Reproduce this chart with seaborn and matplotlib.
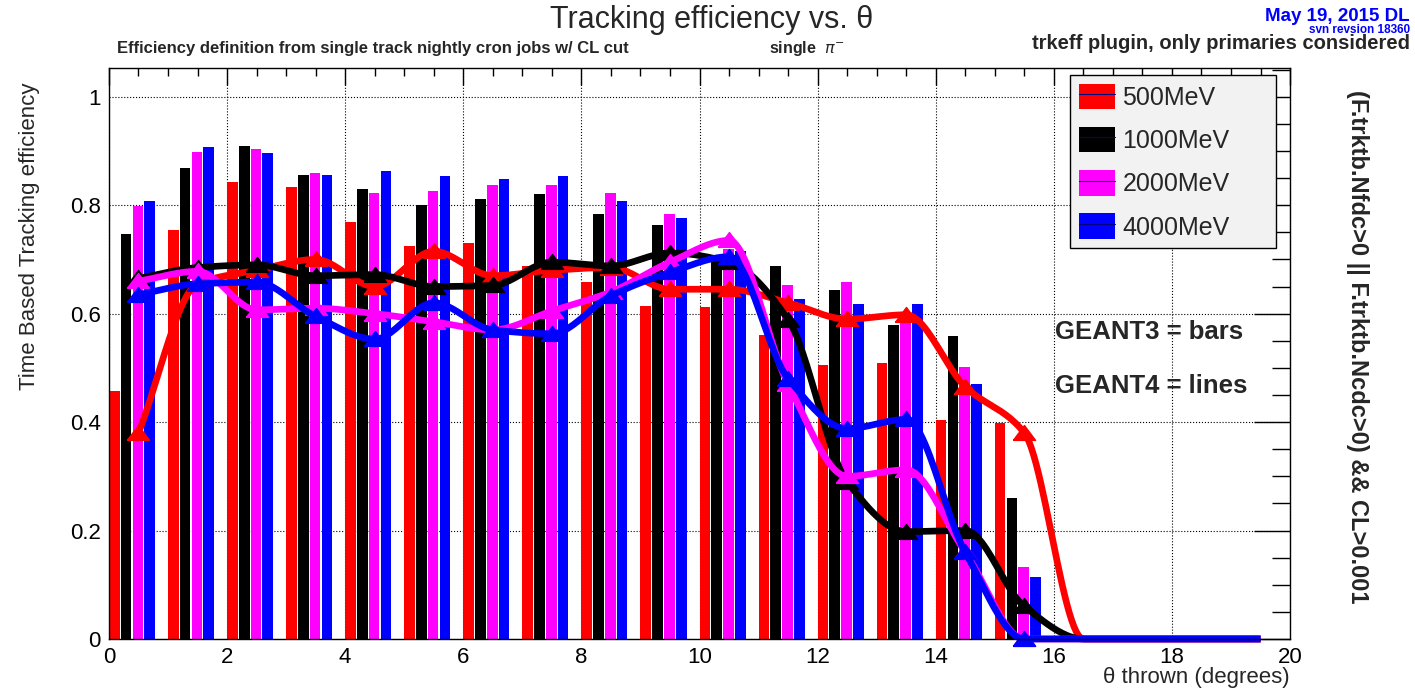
import numpy as np
import pandas as pd
import seaborn as sns
import matplotlib
matplotlib.use("Agg")
from matplotlib import pyplot as plt
from matplotlib.patches import Patch
from matplotlib.lines import Line2D
from matplotlib.ticker import MultipleLocator

# theta bins (lower edge, degrees) for GEANT3 bars
theta_bins = [0, 1, 2, 3, 4, 5, 6, 7, 8, 9, 10, 11, 12, 13, 14, 15]
# bin centres for GEANT4 curves
theta_centres = [0.5, 1.5, 2.5, 3.5, 4.5, 5.5, 6.5, 7.5, 8.5, 9.5,
                 10.5, 11.5, 12.5, 13.5, 14.5, 15.5, 16.5, 17.5, 18.5, 19.5]

energies = ["500MeV", "1000MeV", "2000MeV", "4000MeV"]
colors = ["#ff0000", "#000000", "#ff00ff", "#0000ff"]

# GEANT3 = bars
g3_500 = [0.457, 0.754, 0.843, 0.834, 0.769, 0.724, 0.730, 0.688, 0.658, 0.615, 0.612, 0.561, 0.505, 0.509, 0.403, 0.399]
g3_1000 = [0.746, 0.869, 0.910, 0.855, 0.830, 0.800, 0.812, 0.820, 0.783, 0.764, 0.700, 0.688, 0.643, 0.579, 0.559, 0.260]
g3_2000 = [0.798, 0.898, 0.904, 0.859, 0.822, 0.826, 0.838, 0.838, 0.822, 0.783, 0.720, 0.653, 0.659, 0.600, 0.502, 0.133]
g3_4000 = [0.807, 0.908, 0.897, 0.855, 0.863, 0.853, 0.848, 0.853, 0.807, 0.776, 0.716, 0.627, 0.618, 0.618, 0.471, 0.114]

# GEANT4 = lines
g4_500 = [0.38, 0.655, 0.68, 0.70, 0.65, 0.715, 0.67, 0.68, 0.685, 0.645, 0.645, 0.62, 0.59, 0.598, 0.465, 0.38, 0, 0, 0, 0]
g4_1000 = [0.665, 0.685, 0.69, 0.67, 0.672, 0.65, 0.652, 0.695, 0.688, 0.712, 0.695, 0.589, 0.29, 0.198, 0.20, 0.06, 0, 0, 0, 0]
g4_2000 = [0.66, 0.678, 0.607, 0.61, 0.60, 0.585, 0.57, 0.605, 0.64, 0.695, 0.735, 0.47, 0.30, 0.312, 0.16, 0.0, 0, 0, 0, 0]
g4_4000 = [0.635, 0.655, 0.658, 0.595, 0.553, 0.62, 0.57, 0.563, 0.633, 0.676, 0.705, 0.48, 0.388, 0.405, 0.16, 0.0, 0, 0, 0, 0]


def smooth(xv, yv, n=25):
    # monotone cubic through the points, just for drawing the curve
    x = np.asarray(xv, float)
    y = np.asarray(yv, float)
    h = np.diff(x)
    d = np.diff(y) / h
    m = np.zeros_like(y)
    for k in range(1, len(x) - 1):
        if d[k-1] * d[k] > 0:
            w1 = 2*h[k] + h[k-1]
            w2 = h[k] + 2*h[k-1]
            m[k] = (w1 + w2) / (w1/d[k-1] + w2/d[k])
    m[0] = d[0]
    m[-1] = d[-1]
    xs, ys = [], []
    for k in range(len(x) - 1):
        t = np.linspace(0, 1, n, endpoint=(k == len(x) - 2))
        h00 = 2*t**3 - 3*t**2 + 1
        h10 = t**3 - 2*t**2 + t
        h01 = -2*t**3 + 3*t**2
        h11 = t**3 - t**2
        ys.append(h00*y[k] + h10*h[k]*m[k] + h01*y[k+1] + h11*h[k]*m[k+1])
        xs.append(x[k] + t*h[k])
    return np.concatenate(xs), np.concatenate(ys)


sns.set_style("white")
plt.rcParams['font.family'] = ['Liberation Sans', 'DejaVu Sans']

fig = plt.figure(figsize=(14.15, 6.94), dpi=100)
ax = fig.add_axes([0.077, 0.0793, 0.8347, 0.8227])

rows = []
for e, vals in zip(energies, [g3_500, g3_1000, g3_2000, g3_4000]):
    for b, v in zip(theta_bins, vals):
        rows.append({"theta": b + 0.39, "energy": e, "eff": v})
bars = pd.DataFrame(rows)

sns.barplot(data=bars, x="theta", y="eff", hue="energy", hue_order=energies,
            palette=colors, native_scale=True, dodge=True, width=0.8, gap=0.1,
            saturation=1, errorbar=None, linewidth=0, legend=False, ax=ax)

tri = [(-1, -0.62), (1, -0.62), (0, 0.72), (-1, -0.62)]
nmark = len(theta_bins)
for vals, c in zip([g4_500, g4_1000, g4_2000, g4_4000], colors):
    xs, ys = smooth(theta_centres, vals)
    ax.plot(xs, ys, color=c, lw=4.8, clip_on=False, solid_capstyle="butt")
    ax.plot(theta_centres[:nmark], vals[:nmark], ls="none", marker=tri,
            ms=16, color=c, clip_on=False)

ax.set_xlim(0, 20)
ax.set_ylim(0, 1.053)
ax.set_xlabel("")
ax.set_ylabel("")
ax.xaxis.set_minor_locator(MultipleLocator(0.5))
ax.yaxis.set_minor_locator(MultipleLocator(0.05))
ax.set_yticks([0, 0.2, 0.4, 0.6, 0.8, 1.0])
ax.set_yticklabels(["0", "0.2", "0.4", "0.6", "0.8", "1"])
ax.set_xticks(range(0, 21, 2))
ax.set_xticklabels([str(v) for v in range(0, 21, 2)])
ax.tick_params(which="both", direction="in", top=True, right=True, width=1, colors="black", labelsize=16)
ax.tick_params(axis="x", which="major", length=12, pad=6)
ax.tick_params(axis="x", which="minor", length=6)
ax.tick_params(axis="y", which="major", length=26, pad=6)
ax.tick_params(axis="y", which="minor", length=13)
ax.grid(which="major", ls=":", color="black", lw=0.8)
ax.set_axisbelow(True)
for s in ax.spines.values():
    s.set_color("black")
    s.set_linewidth(1)

# ROOT-style legend box of fixed width
handles = [(Patch(facecolor=c, edgecolor="none"), Line2D([], [], color="#000080", lw=0.8)) for c in colors]
leg = ax.legend(handles, energies, loc="upper left", bbox_to_anchor=(0.8137, 0.988, 0.1744, 0.0),
                mode="expand", fontsize=18, handlelength=1.45, handleheight=1.2, handletextpad=0.3,
                labelspacing=0.68, borderpad=0.35, borderaxespad=0, fancybox=False,
                framealpha=1, facecolor="#f2f2f2", edgecolor="black")
leg.get_frame().set_linewidth(1)

fig.text(1055 / 1415, 1 - 332 / 694, "GEANT3 = bars", fontsize=18.5, fontweight="bold", va="center")
fig.text(1055 / 1415, 1 - 386 / 694, "GEANT4 = lines", fontsize=18.5, fontweight="bold", va="center")

fig.text(712 / 1415, 1 - 20 / 694, "Tracking efficiency vs. \u03b8", fontsize=22, ha="center", va="center")
fig.text(117 / 1415, 1 - 53 / 694, "Efficiency definition from single track nightly cron jobs w/ CL cut",
         fontsize=12, fontweight="bold", va="baseline")
fig.text(769 / 1415, 1 - 53 / 694, "single  $\\pi^{-}$", fontsize=11.5, fontweight="bold", va="baseline")
fig.text(1410 / 1415, 1 - 49 / 694, "trkeff plugin, only primaries considered",
         fontsize=14.5, fontweight="bold", ha="right", va="baseline")
fig.text(1410 / 1415, 1 - 21 / 694, "May 19, 2015 DL", fontsize=13.5, fontweight="bold",
         color="#0000ff", ha="right", va="baseline")
fig.text(1410 / 1415, 1 - 33 / 694, "svn revsion 18360", fontsize=8.5, fontweight="bold",
         color="#0000ff", ha="right", va="baseline")
fig.text(1357 / 1415, 1 - 347 / 694, "(F.trktb.Nfdc>0 || F.trktb.Ncdc>0) && CL>0.001",
         fontsize=17, fontweight="bold", rotation=-90, ha="center", va="center")
fig.text(30 / 1415, 1 - 83 / 694, "Time Based Tracking efficiency", fontsize=16,
         rotation=90, ha="center", va="top")
fig.text(1290 / 1415, 1 - 678 / 694, "\u03b8 thrown (degrees)", fontsize=16, ha="right", va="center")

fig.savefig("out.png", dpi=100, facecolor="white")
